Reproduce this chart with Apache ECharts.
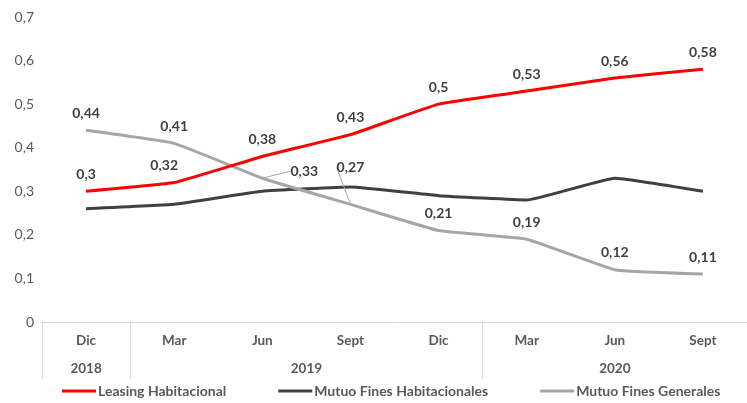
<!DOCTYPE html>
<html>
<head>
<meta charset="utf-8">
<script src="https://cdn.jsdelivr.net/npm/echarts@6/dist/echarts.min.js"></script>
<style>
  html, body { margin: 0; padding: 0; background: #fff; }
  #chart { width: 747px; height: 403px; }
</style>
</head>
<body>
<div id="chart"></div>
<script>
// datos
const meses = ['Dic', 'Mar', 'Jun', 'Sept', 'Dic', 'Mar', 'Jun', 'Sept'];
const anios = ['2018', '2019', '2020'];
const leasing = [0.30, 0.32, 0.38, 0.43, 0.50, 0.53, 0.56, 0.58];
const mutuoHab = [0.26, 0.27, 0.30, 0.31, 0.29, 0.28, 0.33, 0.30];
const mutuoGen = [0.44, 0.41, 0.33, 0.27, 0.21, 0.19, 0.12, 0.11];

const fuente = 'Lato, sans-serif';
const coma = v => String(v).replace('.', ',');

const chart = echarts.init(document.getElementById('chart'));

const etiqueta = {
  show: true,
  position: 'top',
  distance: 10,
  color: '#404040',
  fontWeight: 'bold',
  fontSize: 14,
  fontFamily: fuente,
  formatter: p => coma(p.value)
};

// etiquetas 0,33 y 0,27 desplazadas con línea guía
const guia = [2, 3];
const datosGen = mutuoGen.map((v, i) => guia.includes(i)
  ? { value: v, labelLine: { show: true } }
  : v);

chart.setOption({
  animation: false,
  grid: { left: 42, right: -3, top: 17, bottom: 81 },
  xAxis: [
    {
      type: 'category',
      data: meses,
      axisLine: { lineStyle: { color: '#d9d9d9', width: 1 } },
      axisTick: {
        show: true,
        length: 57,
        interval: i => i === 0 || i === 1 || i === 5,
        lineStyle: { color: '#d9d9d9' }
      },
      axisLabel: {
        interval: 0,
        margin: 12,
        color: '#595959',
        fontWeight: 'bold',
        fontSize: 13.5,
        fontFamily: fuente
      }
    },
    {
      // fila de años
      type: 'value',
      position: 'bottom',
      offset: 28,
      min: 0,
      max: 8,
      axisLine: { show: false },
      axisTick: { show: false },
      splitLine: { show: false },
      axisLabel: {
        customValues: [0.5, 3, 6.5],
        margin: 12,
        color: '#595959',
        fontWeight: 'bold',
        fontSize: 13.5,
        fontFamily: fuente,
        formatter: v => v === 0.5 ? anios[0] : v === 3 ? anios[1] : anios[2]
      }
    }
  ],
  yAxis: {
    type: 'value',
    min: 0,
    max: 0.7,
    interval: 0.1,
    axisLine: { show: false },
    axisTick: { show: false },
    splitLine: { show: false },
    axisLabel: {
      margin: 8,
      color: '#595959',
      fontSize: 14,
      fontFamily: fuente,
      formatter: v => coma(Math.round(v * 10) / 10)
    }
  },
  legend: {
    bottom: 0,
    left: 57,
    width: 690,
    itemWidth: 34,
    itemHeight: 3,
    itemGap: 52,
    icon: 'rect',
    textStyle: {
      color: '#595959',
      fontWeight: 'bold',
      fontSize: 14,
      fontFamily: fuente,
      padding: [0, 0, 0, -3]
    },
    data: ['Leasing Habitacional', 'Mutuo Fines Habitacionales', 'Mutuo Fines Generales']
  },
  series: [
    {
      name: 'Mutuo Fines Habitacionales',
      type: 'line',
      data: mutuoHab,
      smooth: 0.1,
      symbol: 'none',
      lineStyle: { color: '#404040', width: 3 },
      itemStyle: { color: '#404040' }
    },
    {
      name: 'Mutuo Fines Generales',
      type: 'line',
      data: datosGen,
      smooth: 0.1,
      symbol: 'circle',
      symbolSize: 0,
      lineStyle: { color: '#a6a6a6', width: 3 },
      itemStyle: { color: '#a6a6a6' },
      label: etiqueta,
      labelLine: { show: false, lineStyle: { color: '#a6a6a6', width: 1 } },
      labelLayout: p => {
        if (p.dataIndex === 2) return { dx: 42, dy: 10 };
        if (p.dataIndex === 3) return { dx: 0, dy: -20 };
        return {};
      }
    },
    {
      name: 'Leasing Habitacional',
      type: 'line',
      data: leasing,
      smooth: 0.1,
      symbol: 'circle',
      symbolSize: 0,
      lineStyle: { color: '#ff0000', width: 3 },
      itemStyle: { color: '#ff0000' },
      label: etiqueta,
      labelLayout: p => p.dataIndex === 1 ? { dx: -10 } : {}
    }
  ]
});
</script>
</body>
</html>
